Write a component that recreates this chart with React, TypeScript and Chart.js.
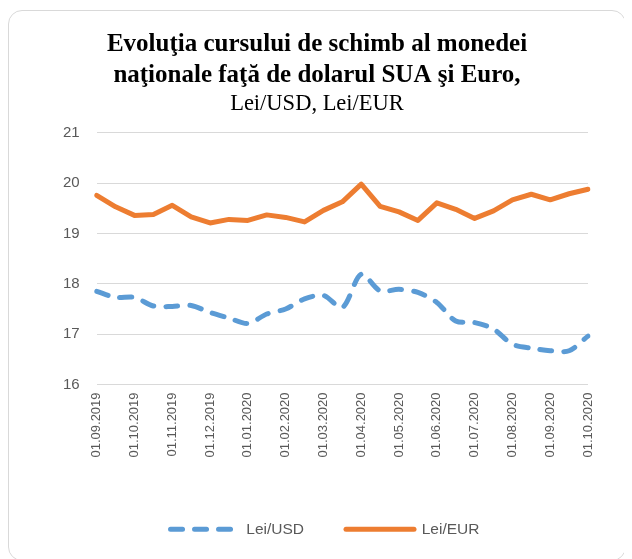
import React, { useEffect, useRef } from "react";
import { Chart, registerables } from "chart.js";

Chart.register(...registerables);

const labels = [
  "01.09.2019", "15.09.2019", "01.10.2019", "15.10.2019", "01.11.2019", "15.11.2019",
  "01.12.2019", "15.12.2019", "01.01.2020", "15.01.2020", "01.02.2020", "15.02.2020",
  "01.03.2020", "15.03.2020", "01.04.2020", "15.04.2020", "01.05.2020", "15.05.2020",
  "01.06.2020", "15.06.2020", "01.07.2020", "15.07.2020", "01.08.2020", "15.08.2020",
  "01.09.2020", "15.09.2020", "01.10.2020",
];

const leiUsd = [
  17.85, 17.73, 17.73, 17.56, 17.55, 17.57, 17.43, 17.32, 17.21, 17.4, 17.5, 17.7,
  17.77, 17.53, 18.19, 17.86, 17.89, 17.83, 17.63, 17.26, 17.23, 17.1, 16.8, 16.72,
  16.67, 16.67, 16.96,
];

const leiEur = [
  19.76, 19.53, 19.36, 19.38, 19.56, 19.33, 19.21, 19.28, 19.26, 19.37, 19.32, 19.23,
  19.46, 19.63, 19.98, 19.54, 19.43, 19.26, 19.61, 19.48, 19.3, 19.45, 19.67, 19.78,
  19.67, 19.79, 19.88,
];

const titleLines = [
  "Evoluţia cursului de schimb al monedei",
  "naţionale faţă de dolarul SUA şi Euro,",
];
const subtitleText = "Lei/USD, Lei/EUR";

const TICK_COLOR = "#595959";
const SANS = "'Liberation Sans', Arial, sans-serif";
const SERIF = "'Liberation Serif', 'Times New Roman', serif";
const USD_DASH = [12, 12];

const legendShift = {
  id: "legendShift",
  afterLayout(c: any) {
    if (c.legend) {
      c.legend.left += 8;
      c.legend.right += 8;
    }
  },
};

export default function App() {
  const ref = useRef<HTMLCanvasElement | null>(null);

  useEffect(() => {
    if (!ref.current) return;
    const chart = new Chart(ref.current, {
      type: "line",
      plugins: [legendShift],
      data: {
        labels,
        datasets: [
          {
            label: "Lei/USD",
            data: leiUsd,
            borderColor: "#5B9BD5",
            backgroundColor: "#5B9BD5",
            borderWidth: 5,
            borderDash: USD_DASH,
            borderCapStyle: "round",
            borderJoinStyle: "round",
            pointRadius: 0,
            tension: 0.3,
          },
          {
            label: "Lei/EUR",
            data: leiEur,
            borderColor: "#ED7D31",
            backgroundColor: "#ED7D31",
            borderWidth: 5,
            borderCapStyle: "round",
            borderJoinStyle: "round",
            pointRadius: 0,
            tension: 0,
          },
        ],
      },
      options: {
        animation: false,
        responsive: true,
        maintainAspectRatio: false,
        layout: { padding: { left: 37, right: 37, top: 12, bottom: 13 } },
        plugins: {
          title: {
            display: true,
            text: titleLines,
            color: "#000",
            font: { family: SERIF, size: 25, weight: "bold", lineHeight: 1.24 },
            padding: { top: 6, bottom: 0 },
          },
          subtitle: {
            display: true,
            text: subtitleText,
            color: "#000",
            font: { family: SERIF, size: 22.5, weight: "normal", lineHeight: 1.15 },
            padding: { top: 0, bottom: 16 },
          },
          legend: {
            position: "bottom",
            labels: {
              usePointStyle: true,
              pointStyle: "line",
              pointStyleWidth: 68,
              boxHeight: 15,
              padding: 42,
              color: TICK_COLOR,
              font: { family: SANS, size: 15.5 },
              generateLabels: (c: any) => {
                const items = Chart.defaults.plugins.legend.labels.generateLabels(c);
                return items.map((it: any, i: number) => ({
                  ...it,
                  lineDash: i === 0 ? USD_DASH : [],
                  lineCap: "round",
                  lineWidth: 5,
                })) as any;
              },
            },
          },
          tooltip: { enabled: false },
        },
        scales: {
          x: {
            grid: { display: false },
            border: { display: false },
            afterFit: (s: any) => {
              s.height += 22;
            },
            ticks: {
              autoSkip: false,
              maxRotation: 90,
              minRotation: 90,
              color: TICK_COLOR,
              font: { family: SANS, size: 13 },
              padding: 0,
              callback: (_v: any, i: number) => (i % 2 === 0 ? labels[i] : ""),
            },
          },
          y: {
            min: 16,
            max: 21,
            ticks: {
              stepSize: 1,
              color: TICK_COLOR,
              font: { family: SANS, size: 15 },
              padding: 17,
            },
            grid: { color: "#d9d9d9", lineWidth: 1, drawTicks: false },
            border: { display: false },
          },
        },
      },
    });
    return () => chart.destroy();
  }, []);

  return (
    <div
      style={{
        width: 616,
        height: 549,
        marginTop: 2,
        border: "1px solid #d9d9d9",
        borderRadius: 14,
        position: "relative",
        background: "#fff",
      }}
    >
      <div style={{ position: "absolute", inset: 0 }}>
        <canvas ref={ref} />
      </div>
    </div>
  );
}
